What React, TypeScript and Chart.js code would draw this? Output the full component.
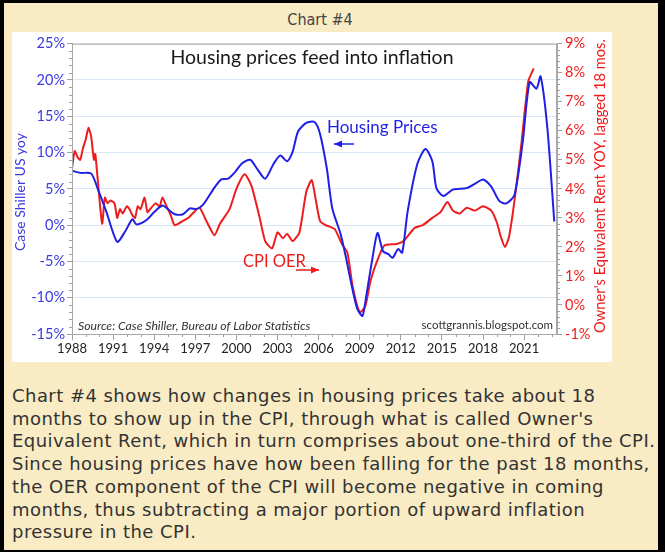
import React, { useEffect, useRef } from "react";
import { Chart, registerables } from "chart.js";

Chart.register(...registerables);

// Case-Shiller US home prices, yoy % (left axis)
const hpYears = [1988.0, 1988.6, 1989.4, 1989.9, 1990.5, 1991.3, 1991.9, 1992.4, 1992.7, 1993.1, 1993.5, 1994.0, 1994.6, 1995.0, 1995.5, 1996.1, 1996.6, 1997.1, 1997.6, 1998.3, 1998.9, 1999.4, 1999.9, 2000.4, 2001.0, 2001.5, 2002.1, 2002.7, 2003.2, 2003.7, 2004.1, 2004.5, 2005.1, 2005.7, 2006.1, 2006.6, 2007.0, 2007.6, 2008.0, 2008.3, 2008.8, 2009.2, 2009.5, 2009.9, 2010.3, 2010.7, 2011.1, 2011.4, 2011.8, 2012.1, 2012.5, 2013.2, 2013.8, 2014.3, 2014.6, 2015.1, 2015.8, 2016.8, 2017.5, 2018.0, 2018.6, 2019.2, 2019.7, 2020.3, 2020.9, 2021.4, 2021.9, 2022.2, 2022.7, 2023.2];
const hpValues = [7.5, 7.2, 7.1, 4.9, 1.9, -2.3, -0.8, 0.8, 0.1, 0.3, 0.8, 1.8, 2.7, 2.2, 1.5, 1.5, 2.3, 2.2, 2.9, 4.9, 6.3, 6.4, 7.3, 8.5, 9.0, 7.8, 6.4, 8.4, 9.6, 8.8, 10.1, 12.9, 14.1, 14.2, 12.6, 7.8, 2.3, -1.2, -4.5, -7.3, -11.4, -12.5, -9.5, -4.9, -1.1, -3.6, -4.0, -4.5, -3.3, -3.8, 1.9, 8.4, 10.5, 8.8, 5.1, 4.0, 4.9, 5.1, 5.8, 6.3, 5.3, 3.3, 3.0, 4.2, 11.5, 19.7, 18.8, 20.5, 13.3, 0.5];

// CPI Owner's Equivalent Rent, yoy %, lagged 18 months (right axis)
const oerYears = [1988.0, 1988.2, 1988.4, 1988.6, 1988.8, 1989.0, 1989.2, 1989.4, 1989.6, 1989.7, 1989.9, 1990.2, 1990.4, 1990.6, 1990.8, 1991.1, 1991.3, 1991.5, 1991.7, 1992.0, 1992.2, 1992.4, 1992.6, 1992.8, 1993.0, 1993.3, 1993.5, 1993.7, 1994.1, 1994.4, 1994.6, 1994.9, 1995.2, 1995.5, 1996.1, 1996.5, 1996.8, 1997.3, 1997.8, 1998.4, 1998.8, 1999.5, 2000.0, 2000.6, 2001.1, 2001.7, 2002.1, 2002.6, 2003.0, 2003.4, 2003.7, 2004.1, 2004.6, 2005.1, 2005.5, 2005.8, 2006.1, 2006.5, 2006.8, 2007.2, 2007.7, 2008.1, 2008.5, 2009.0, 2009.4, 2009.8, 2010.3, 2010.8, 2011.7, 2012.2, 2013.0, 2013.6, 2014.3, 2014.9, 2015.4, 2015.8, 2016.3, 2016.8, 2017.4, 2018.0, 2018.6, 2019.0, 2019.3, 2019.6, 2019.9, 2020.3, 2020.8, 2021.3, 2021.7];
const oerValues = [4.7, 5.3, 5.1, 5.0, 5.4, 5.7, 6.1, 5.8, 5.0, 5.2, 4.2, 2.8, 3.7, 3.5, 3.6, 3.5, 3.0, 3.3, 3.15, 3.4, 3.3, 3.1, 3.0, 3.4, 3.3, 3.7, 3.2, 3.3, 3.5, 3.4, 3.7, 3.4, 3.1, 2.75, 2.9, 3.0, 3.15, 3.35, 2.9, 2.4, 2.8, 3.3, 4.0, 4.5, 4.1, 3.0, 2.2, 1.95, 2.5, 2.3, 2.45, 2.2, 2.5, 3.9, 4.3, 3.6, 2.9, 2.75, 2.7, 2.6, 2.1, 1.8, 0.6, -0.25, -0.05, 0.85, 1.55, 2.05, 2.1, 2.2, 2.65, 2.75, 3.0, 3.2, 3.55, 3.25, 3.15, 3.35, 3.25, 3.4, 3.25, 2.85, 2.35, 2.0, 2.35, 3.6, 5.55, 7.7, 8.15];

const xTickYears = [1988, 1991, 1994, 1997, 2000, 2003, 2006, 2009, 2012, 2015, 2018, 2021];
const leftTicks = [-15, -10, -5, 0, 5, 10, 15, 20, 25];
const rightTicks = [-1, 0, 1, 2, 3, 4, 5, 6, 7, 8, 9];

const chartTitle = "Housing prices feed into inflation";
const hpLabel = "Housing Prices";
const oerLabel = "CPI OER";
const leftAxisTitle = "Case Shiller US yoy";
const rightAxisTitle = "Owner's Equivalent Rent YOY, lagged 18 mos.";
const sourceNote = "Source: Case Shiller, Bureau of Labor Statistics";
const siteNote = "scottgrannis.blogspot.com";

const BLUE = "#1f1fe6";
const RED = "#ee1c1c";
const AXIS_BLUE = "#3a3ae0";
const FONT = "Lato, 'Open Sans', sans-serif";

const bodyLines = [
  "Chart #4 shows how changes in housing prices take about 18",
  "months to show up in the CPI, through what is called Owner's",
  "Equivalent Rent, which in turn comprises about one-third of the CPI.",
  "Since housing prices have how been falling for the past 18 months,",
  "the OER component of the CPI will become negative in coming",
  "months, thus subtracting a major portion of upward inflation",
  "pressure in the CPI.",
];

const decorPlugin = {
  id: "decor",
  beforeDraw(chart: any) {
    const { ctx } = chart;
    ctx.save();
    ctx.fillStyle = "#ffffff";
    ctx.fillRect(0, 0, chart.width, chart.height);
    ctx.restore();
  },
  afterDraw(chart: any) {
    const { ctx, chartArea: a, scales } = chart;
    const x = scales.x, y = scales.y, y2 = scales.y2;
    ctx.save();
    // plot border
    ctx.strokeStyle = "#a8a8a8";
    ctx.lineWidth = 1;
    ctx.strokeRect(a.left + 0.5, a.top + 0.5, a.right - a.left - 1, a.bottom - a.top);
    // minor ticks
    ctx.strokeStyle = "#a0a0a0";
    ctx.beginPath();
    for (let v = -15; v <= 25; v += 1) {
      if (v % 5 === 0) continue;
      const py = Math.round(y.getPixelForValue(v)) + 0.5;
      ctx.moveTo(a.left - 3, py);
      ctx.lineTo(a.left, py);
    }
    for (let i = -5; i <= 45; i++) {
      if (i % 5 === 0) continue;
      const py = Math.round(y2.getPixelForValue(i / 5)) + 0.5;
      ctx.moveTo(a.right, py);
      ctx.lineTo(a.right + 3, py);
    }
    for (let yr = 1988; yr <= 2023; yr++) {
      if ((yr - 1988) % 3 === 0) continue;
      const px = Math.round(x.getPixelForValue(yr)) + 0.5;
      ctx.moveTo(px, a.bottom);
      ctx.lineTo(px, a.bottom + 3);
    }
    ctx.stroke();

    // title
    ctx.fillStyle = "#1a1a1a";
    ctx.font = `19.5px ${FONT}`;
    ctx.textAlign = "center";
    ctx.textBaseline = "middle";
    ctx.fillText(chartTitle, 300, 26);

    // series labels
    ctx.textAlign = "left";
    ctx.font = `17px ${FONT}`;
    ctx.fillStyle = BLUE;
    ctx.fillText(hpLabel, 315, 96);
    ctx.font = `16.5px ${FONT}`;
    ctx.fillStyle = RED;
    ctx.fillText(oerLabel, 231, 230);

    // arrows
    const arrow = (x1: number, x2: number, yy: number, color: string, dir: number) => {
      ctx.strokeStyle = color;
      ctx.fillStyle = color;
      ctx.lineWidth = 1.5;
      ctx.beginPath();
      ctx.moveTo(x1, yy);
      ctx.lineTo(x2, yy);
      ctx.stroke();
      const tip = dir < 0 ? x1 : x2;
      ctx.beginPath();
      ctx.moveTo(tip, yy);
      ctx.lineTo(tip - dir * 8, yy - 3.5);
      ctx.lineTo(tip - dir * 8, yy + 3.5);
      ctx.closePath();
      ctx.fill();
    };
    arrow(322, 342, 112, BLUE, -1);
    arrow(284, 307, 238, RED, 1);

    // notes
    ctx.fillStyle = "#333";
    ctx.font = `italic 12.2px ${FONT}`;
    ctx.textAlign = "left";
    ctx.fillText(sourceNote, 66, 294);
    ctx.font = `11.5px ${FONT}`;
    ctx.textAlign = "right";
    ctx.fillText(siteNote, 541, 293);

    // axis titles
    ctx.font = `14px ${FONT}`;
    ctx.textAlign = "center";
    ctx.save();
    ctx.translate(8, 160);
    ctx.rotate(-Math.PI / 2);
    ctx.fillStyle = AXIS_BLUE;
    ctx.fillText(leftAxisTitle, 0, 0);
    ctx.restore();
    ctx.font = `14.7px ${FONT}`;
    ctx.save();
    ctx.translate(588, 154);
    ctx.rotate(-Math.PI / 2);
    ctx.fillStyle = RED;
    ctx.fillText(rightAxisTitle, 0, 0);
    ctx.restore();

    ctx.restore();
  },
};

function ChartBox() {
  const ref = useRef<HTMLCanvasElement | null>(null);
  useEffect(() => {
    if (!ref.current) return;
    const chart = new Chart(ref.current, {
      type: "line",
      data: {
        datasets: [
          {
            label: hpLabel,
            data: hpYears.map((yr, i) => ({ x: yr, y: hpValues[i] })),
            borderColor: BLUE,
            borderWidth: 2,
            pointRadius: 0,
            tension: 0.25,
            yAxisID: "y",
          },
          {
            label: oerLabel,
            data: oerYears.map((yr, i) => ({ x: yr, y: oerValues[i] })),
            borderColor: RED,
            borderWidth: 2,
            pointRadius: 0,
            tension: 0.2,
            yAxisID: "y2",
          },
        ],
      },
      options: {
        animation: false,
        responsive: false,
        maintainAspectRatio: false,
        layout: { padding: { top: 11, left: 0, right: 0, bottom: 0 } },
        plugins: { legend: { display: false }, tooltip: { enabled: false }, title: { display: false } },
        scales: {
          x: {
            type: "linear",
            min: 1988,
            max: 2023.4,
            afterBuildTicks: (s: any) => {
              s.ticks = xTickYears.map((v) => ({ value: v }));
            },
            afterFit: (s: any) => {
              s.height = 28;
            },
            grid: { drawOnChartArea: false, tickLength: 6, color: "#a0a0a0" },
            border: { color: "#a8a8a8" },
            ticks: {
              autoSkip: false,
              maxRotation: 0,
              padding: 1,
              color: "#222",
              font: { family: FONT, size: 13 },
              callback: (v: any) => String(v),
            },
          },
          y: {
            type: "linear",
            position: "left",
            min: -15,
            max: 25,
            afterBuildTicks: (s: any) => {
              s.ticks = leftTicks.map((v) => ({ value: v }));
            },
            afterFit: (s: any) => {
              s.width = 60;
            },
            grid: { color: "#d9e7f5", tickColor: "#a0a0a0", tickLength: 5 },
            border: { color: "#a8a8a8" },
            ticks: {
              padding: 2,
              color: AXIS_BLUE,
              font: { family: FONT, size: 14.5 },
              callback: (v: any) => v + "%",
            },
          },
          y2: {
            type: "linear",
            position: "right",
            min: -1,
            max: 9,
            afterBuildTicks: (s: any) => {
              s.ticks = rightTicks.map((v) => ({ value: v }));
            },
            afterFit: (s: any) => {
              s.width = 55;
            },
            grid: { drawOnChartArea: false, color: "#a0a0a0", tickLength: 5 },
            border: { color: "#a8a8a8" },
            ticks: {
              padding: 3,
              color: RED,
              font: { family: FONT, size: 14.5 },
              callback: (v: any) => v + "%",
            },
          },
        },
      },
      plugins: [decorPlugin],
    } as any);
    return () => chart.destroy();
  }, []);
  return <canvas ref={ref} width={600} height={330} style={{ display: "block", width: 600, height: 330 }} />;
}

export default function App() {
  return (
    <div
      style={{
        position: "fixed",
        left: 0,
        top: 0,
        width: 665,
        height: 552,
        background: "#000",
        overflow: "hidden",
      }}
    >
      <div
        style={{
          position: "absolute",
          left: 4,
          top: 3,
          width: 654,
          height: 547,
          background: "#f9ebc4",
        }}
      >
        <div
          style={{
            position: "absolute",
            left: 0,
            width: 632,
            top: 8,
            textAlign: "center",
            fontFamily: "'DejaVu Sans Condensed', 'DejaVu Sans', sans-serif",
            fontSize: 16,
            color: "#444",
            lineHeight: "18px",
          }}
        >
          Chart #4
        </div>
        <div style={{ position: "absolute", left: 8, top: 29 }}>
          <ChartBox />
        </div>
        <div
          style={{
            position: "absolute",
            left: 8,
            top: 382,
            fontFamily: "'DejaVu Sans', sans-serif",
            fontSize: 18,
            letterSpacing: "0.45px",
            lineHeight: "22.7px",
            color: "#333",
            whiteSpace: "pre",
          }}
        >
          {bodyLines.join("\n")}
        </div>
      </div>
    </div>
  );
}
